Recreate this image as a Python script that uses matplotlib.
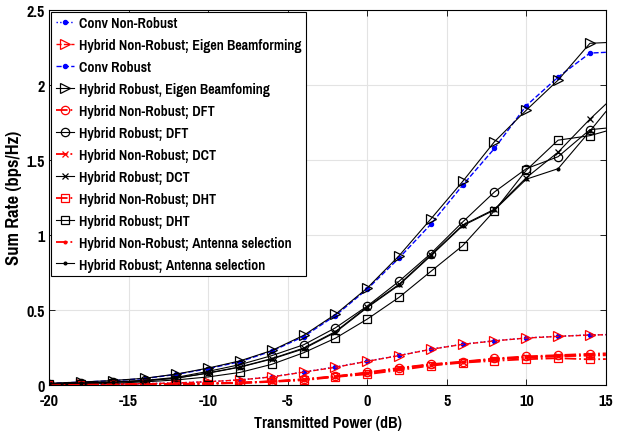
import matplotlib
matplotlib.use('Agg')
import matplotlib.pyplot as plt
from matplotlib import font_manager

plt.rcParams['axes.unicode_minus'] = False


# --- fonts: look for a narrow / condensed bold sans, like the MATLAB export ---
def find_narrow_bold():
    best = None
    for f in font_manager.fontManager.ttflist:
        fn = f.fname.replace('-', '').replace('_', '').lower()
        if 'italic' in fn or 'oblique' in fn or 'mono' in fn or 'serif' in fn:
            continue
        if 'extra' in fn or 'semi' in fn or 'ultra' in fn:
            continue
        if ('narrow' in fn or 'condensed' in fn) and 'bold' in fn:
            if best is None or 'narrow' in fn:
                best = f.fname
    return best


narrow = find_narrow_bold()
if narrow:
    def fp(size):
        return font_manager.FontProperties(fname=narrow, size=size)
    FS = 11
else:
    def fp(size):
        return font_manager.FontProperties(family='Liberation Sans', weight='bold', size=size)
    FS = 9

# --- data ---
power_db = [-20, -18, -16, -14, -12, -10, -8, -6, -4, -2, 0, 2, 4, 6, 8, 10, 12, 14, 15]

conv_nonrobust = [0.002, 0.003, 0.005, 0.008, 0.013, 0.021, 0.033, 0.054, 0.086, 0.119, 0.158,
                  0.196, 0.238, 0.271, 0.294, 0.313, 0.324, 0.333, 0.335]
hyb_nr_eigen = [0.002, 0.003, 0.005, 0.008, 0.013, 0.021, 0.033, 0.053, 0.085, 0.117, 0.157,
                0.195, 0.237, 0.270, 0.293, 0.312, 0.323, 0.332, 0.334]
conv_robust = [0.010, 0.018, 0.028, 0.042, 0.070, 0.108, 0.155, 0.225, 0.322, 0.462, 0.638,
               0.845, 1.070, 1.330, 1.575, 1.860, 2.050, 2.210, 2.215]
hyb_r_eigen = [0.011, 0.019, 0.029, 0.044, 0.072, 0.112, 0.160, 0.229, 0.330, 0.470, 0.645,
               0.860, 1.105, 1.355, 1.620, 1.830, 2.030, 2.275, 2.280]
hyb_nr_dft = [0.001, 0.002, 0.003, 0.004, 0.006, 0.009, 0.015, 0.024, 0.038, 0.058, 0.083,
              0.113, 0.138, 0.155, 0.176, 0.190, 0.198, 0.207, 0.210]
hyb_r_dft = [0.008, 0.013, 0.020, 0.030, 0.050, 0.090, 0.135, 0.195, 0.267, 0.380, 0.525,
             0.690, 0.875, 1.085, 1.285, 1.440, 1.520, 1.700, 1.710]
hyb_nr_dct = [0.001, 0.002, 0.003, 0.004, 0.006, 0.009, 0.014, 0.023, 0.036, 0.056, 0.080,
              0.110, 0.135, 0.152, 0.172, 0.185, 0.193, 0.200, 0.203]
hyb_r_dct = [0.007, 0.011, 0.018, 0.027, 0.045, 0.080, 0.120, 0.175, 0.245, 0.355, 0.520,
             0.670, 0.865, 1.065, 1.170, 1.380, 1.550, 1.770, 1.870]
hyb_nr_dht = [0.001, 0.001, 0.002, 0.003, 0.005, 0.008, 0.012, 0.020, 0.031, 0.053, 0.071,
              0.098, 0.128, 0.148, 0.160, 0.171, 0.178, 0.170, 0.172]
hyb_r_dht = [0.003, 0.004, 0.011, 0.020, 0.033, 0.053, 0.083, 0.137, 0.214, 0.311, 0.438,
             0.583, 0.756, 0.927, 1.160, 1.430, 1.630, 1.660, 1.690]
hyb_nr_ant = [0.001, 0.002, 0.003, 0.004, 0.006, 0.009, 0.014, 0.022, 0.035, 0.055, 0.078,
              0.108, 0.135, 0.150, 0.170, 0.183, 0.190, 0.195, 0.197]
hyb_r_ant = [0.007, 0.011, 0.018, 0.027, 0.045, 0.078, 0.118, 0.172, 0.240, 0.350, 0.515,
             0.665, 0.860, 1.060, 1.165, 1.370, 1.440, 1.690, 1.820]

# label, values, color, linestyle, marker, marker size, line width
SERIES = [
    ("Conv Non-Robust", conv_nonrobust, 'blue', ':', '.', 6, 1.0),
    ("Hybrid Non-Robust; Eigen Beamforming", hyb_nr_eigen, 'red', '--', '>', 7, 1.0),
    ("Conv Robust", conv_robust, 'blue', '--', '.', 6, 1.0),
    ("Hybrid Robust, Eigen Beamfoming", hyb_r_eigen, 'black', '-', '>', 7, 0.8),
    ("Hybrid Non-Robust; DFT", hyb_nr_dft, 'red', '-.', 'o', 6, 1.3),
    ("Hybrid Robust; DFT", hyb_r_dft, 'black', '-', 'o', 6, 0.8),
    ("Hybrid Non-Robust; DCT", hyb_nr_dct, 'red', '-.', 'x', 5, 1.3),
    ("Hybrid Robust; DCT", hyb_r_dct, 'black', '-', 'x', 5, 0.8),
    ("Hybrid Non-Robust; DHT", hyb_nr_dht, 'red', '-.', 's', 6, 1.3),
    ("Hybrid Robust; DHT", hyb_r_dht, 'black', '-', 's', 6, 0.8),
    ("Hybrid Non-Robust; Antenna selection", hyb_nr_ant, 'red', '-.', '.', 4, 1.3),
    ("Hybrid Robust; Antenna selection", hyb_r_ant, 'black', '-', '.', 4, 0.8),
]

fig = plt.figure(figsize=(6.22, 4.39), dpi=100)
ax = fig.add_axes([0.079, 0.121, 0.895, 0.855])

n_mark = len(power_db) - 1  # last point (15 dB) has no marker
for label, vals, col, ls, mk, ms, lw in SERIES:
    filled = mk in ('.', 'x')
    ax.plot(power_db, vals, color=col, linestyle=ls, linewidth=lw,
            marker=mk, markersize=ms, markevery=list(range(n_mark)),
            markerfacecolor=col if filled else 'none', markeredgecolor=col,
            markeredgewidth=0.9, label=label)

ax.set_xlim(-20, 15)
ax.set_ylim(0, 2.5)
ax.set_xticks([-20, -15, -10, -5, 0, 5, 10, 15])
ax.set_yticks([0, 0.5, 1, 1.5, 2, 2.5])
ax.set_yticklabels(['0', '0.5', '1', '1.5', '2', '2.5'])
ax.grid(True, color='#e3e3e3', linewidth=0.8)
ax.set_axisbelow(True)
ax.tick_params(direction='in', top=True, right=True, length=4, width=0.6)
ax.tick_params(axis='x', pad=6)
ax.tick_params(axis='y', pad=3)
for lab in ax.get_xticklabels() + ax.get_yticklabels():
    lab.set_fontproperties(fp(12.5))
for sp in ax.spines.values():
    sp.set_linewidth(0.8)

ax.set_xlabel("Transmitted Power (dB)", fontproperties=fp(12.5), labelpad=5)
ax.set_ylabel("Sum Rate (bps/Hz)", fontproperties=fp(14.5), labelpad=3)

leg = ax.legend(loc='upper left', prop=fp(FS), frameon=True, fancybox=False,
                edgecolor='black', framealpha=1, handlelength=1.2, handletextpad=0.3,
                labelspacing=0.52, borderpad=0.3, borderaxespad=0.15)
leg.get_frame().set_linewidth(0.8)

fig.savefig("out.png", dpi=100)
